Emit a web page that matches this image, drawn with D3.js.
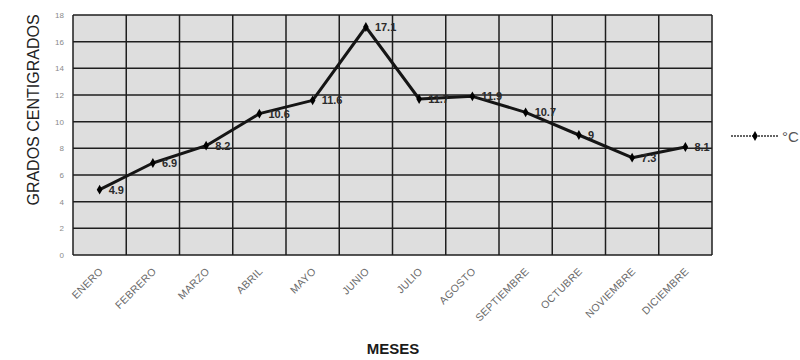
<!DOCTYPE html>
<html>
<head>
<meta charset="utf-8">
<script src="https://cdn.jsdelivr.net/npm/d3@7"></script>
<style>
  body { margin: 0; background: #fff; }
  svg { display: block; font-family: Arial, "Liberation Sans", sans-serif; }
</style>
</head>
<body>
<svg id="chart"></svg>
<script>
const months = ['ENERO', 'FEBRERO', 'MARZO', 'ABRIL', 'MAYO', 'JUNIO', 'JULIO',
    'AGOSTO', 'SEPTIEMBRE', 'OCTUBRE', 'NOVIEMBRE', 'DICIEMBRE'];
const temps = [4.9, 6.9, 8.2, 10.6, 11.6, 17.1, 11.7, 11.9, 10.7, 9, 7.3, 8.1];
const yTicks = [0, 2, 4, 6, 8, 10, 12, 14, 16, 18];
const seriesName = '°C';

const width = 800, height = 360;
const margin = { top: 15, right: 88, bottom: 105, left: 73 };
const innerW = width - margin.left - margin.right;
const innerH = height - margin.top - margin.bottom;

const svg = d3.select('#chart')
    .attr('width', width)
    .attr('height', height);

const chart = svg.append('g')
    .attr('transform', `translate(${margin.left},${margin.top})`);

const xScale = d3.scaleBand()
    .domain(months)
    .range([0, innerW])
    .padding(0);

const yScale = d3.scaleLinear()
    .domain([0, 18])
    .range([innerH, 0]);

// plot background
chart.append('rect')
    .attr('width', innerW)
    .attr('height', innerH)
    .attr('fill', '#dedede');

// horizontal grid
chart.append('g')
    .selectAll('line')
    .data(yTicks)
    .join('line')
    .attr('x1', 0)
    .attr('x2', innerW)
    .attr('y1', d => yScale(d))
    .attr('y2', d => yScale(d))
    .attr('stroke', '#1e1e1e')
    .attr('stroke-width', 1.5);

// vertical grid at band edges
const edges = months.map(m => xScale(m)).concat([innerW]);
chart.append('g')
    .selectAll('line')
    .data(edges)
    .join('line')
    .attr('x1', d => d)
    .attr('x2', d => d)
    .attr('y1', 0)
    .attr('y2', innerH)
    .attr('stroke', '#1e1e1e')
    .attr('stroke-width', 1.5);

// y axis labels
const yAxis = d3.axisLeft(yScale).tickValues(yTicks).tickSize(0).tickPadding(9);
const yAxisG = chart.append('g').call(yAxis);
yAxisG.select('.domain').remove();
yAxisG.selectAll('text')
    .attr('fill', '#8a8a8a')
    .style('font-size', '8px');

// x axis labels
const xAxis = d3.axisBottom(xScale).tickSize(0).tickPadding(0);
const xAxisG = chart.append('g')
    .attr('transform', `translate(0,${innerH})`)
    .call(xAxis);
xAxisG.select('.domain').remove();
xAxisG.selectAll('text')
    .attr('fill', '#6a6a6a')
    .style('font-size', '10.5px')
    .style('letter-spacing', '0.3px')
    .attr('text-anchor', 'end')
    .attr('dy', 0)
    .attr('transform', 'translate(4,17) rotate(-45)');

// line
const cx = d => xScale(d) + xScale.bandwidth() / 2;
const line = d3.line()
    .x((d, i) => cx(months[i]))
    .y(d => yScale(d));

chart.append('path')
    .datum(temps)
    .attr('d', line)
    .attr('fill', 'none')
    .attr('stroke', '#151515')
    .attr('stroke-width', 3)
    .attr('stroke-linejoin', 'round');

const diamond = d3.symbol().type(d3.symbolDiamond).size(28);
chart.append('g')
    .selectAll('path')
    .data(temps)
    .join('path')
    .attr('d', diamond)
    .attr('transform', (d, i) => `translate(${cx(months[i])},${yScale(d)})`)
    .attr('fill', '#000');

chart.append('g')
    .selectAll('text')
    .data(temps)
    .join('text')
    .attr('x', (d, i) => cx(months[i]) + 9)
    .attr('y', d => yScale(d) + 4)
    .attr('fill', '#2a2a2a')
    .style('font-size', '11px')
    .style('font-weight', 'bold')
    .text(d => String(d));

// axis titles
svg.append('text')
    .attr('transform', `translate(39,${margin.top + 95}) rotate(-90)`)
    .attr('text-anchor', 'middle')
    .attr('fill', '#222')
    .style('font-size', '16px')
    .text('GRADOS CENTIGRADOS');

svg.append('text')
    .attr('x', 393)
    .attr('y', 354)
    .attr('text-anchor', 'middle')
    .attr('fill', '#1a1a1a')
    .style('font-size', '15px')
    .style('font-weight', 'bold')
    .text('MESES');

// legend
const legend = svg.append('g').attr('transform', 'translate(731,136)');
legend.append('line')
    .attr('x1', 0)
    .attr('x2', 47)
    .attr('stroke', '#333')
    .attr('stroke-width', 1.5)
    .attr('stroke-dasharray', '2,1');
legend.append('path')
    .attr('d', diamond)
    .attr('transform', 'translate(24,0)')
    .attr('fill', '#000');
legend.append('text')
    .attr('x', 51)
    .attr('y', 6)
    .attr('fill', '#555')
    .style('font-size', '15px')
    .text(seriesName);
</script>
</body>
</html>
